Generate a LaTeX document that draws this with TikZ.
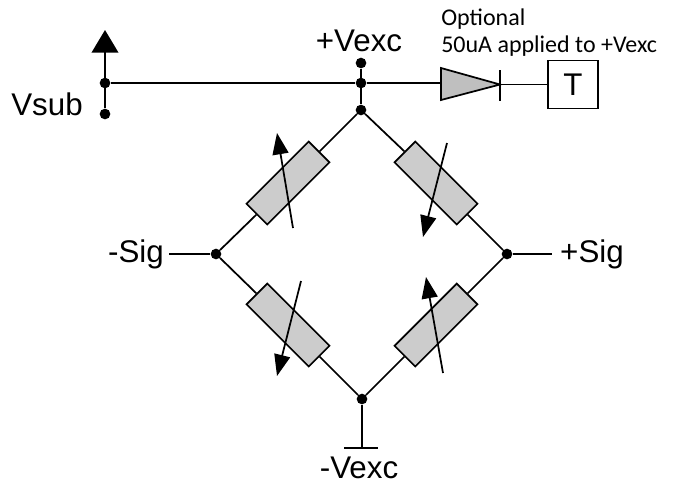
\documentclass[tikz,border=0pt]{standalone}
\usepackage{fontspec}
\setmainfont{Liberation Sans}
\newfontfamily\notefont{Carlito}
\usetikzlibrary{arrows.meta}

\tikzset{
    wire/.style={-, line width=1.3pt},
    dot/.style={circle, fill=black, inner sep=0pt, minimum size=8pt},
    res/.style={draw, fill=black!20, line width=1.3pt, minimum width=66pt, minimum height=22pt, inner sep=0pt},
    trim/.style={-{Triangle[length=16pt, width=12pt]}, line width=1.3pt},
    lbl/.style={font=\fontsize{23.5}{26}\selectfont, inner sep=4pt},
    note/.style={font=\notefont\fontsize{18}{20}\selectfont, anchor=west, inner sep=0pt}
}

\begin{document}
\begin{tikzpicture}[x=0.75pt, y=-0.75pt]
        \useasboundingbox (0,0) rectangle (678,487);

        \node[dot] (top) at (361,63) {};
        \node[dot] (rail) at (361,83) {};
        \node[dot] (apex) at (361,110) {};
        \node[dot] (left) at (216,254) {};
        \node[dot] (right) at (507,254) {};
        \node[dot] (bottom) at (362,399) {};
        \node[dot] (sub) at (105,83) {};
        \node[dot] (subend) at (105,114) {};

        \node[res, rotate=45] (rtl) at (288,183) {};
        \node[res, rotate=-45] (rtr) at (436,183) {};
        \node[res, rotate=-45] (rbl) at (288,325) {};
        \node[res, rotate=45] (rbr) at (436,325) {};

        \draw[wire](apex)--(rtl.east);
        \draw[wire](rtl.west)--(left);
        \draw[wire](apex)--(rtr.west);
        \draw[wire](rtr.east)--(right);
        \draw[wire](left)--(rbl.west);
        \draw[wire](rbl.east)--(bottom);
        \draw[wire](right)--(rbr.east);
        \draw[wire](rbr.west)--(bottom);

        \coordinate (atl) at (293,228);
        \coordinate (btl) at (277,133);
        \coordinate (atr) at (447,143);
        \coordinate (btr) at (423,237);
        \coordinate (abl) at (301,281);
        \coordinate (bbl) at (277,376);
        \coordinate (abr) at (443,373);
        \coordinate (bbr) at (426,277);
        \draw[trim](atl)--(btl);
        \draw[trim](atr)--(btr);
        \draw[trim](abl)--(bbl);
        \draw[trim](abr)--(bbr);

        \draw[wire](top)--(apex);
        \coordinate (subtip) at (105,30);
        \draw[-{Triangle[length=17pt, width=20pt]}, line width=1.3pt](subend)--(subtip);

        % diode and temperature block
        \coordinate (da) at (441,83);
        \coordinate (db) at (500,84.5);
        \coordinate (bara) at (500,70);
        \coordinate (barb) at (500,101);
        \node[draw, line width=1.3pt, minimum width=37.5pt, minimum height=36pt, inner sep=0pt, font=\fontsize{23.5}{26}\selectfont] (tblock) at (573,84.5) {T};
        \draw[wire](sub)--(rail)--(da);
        \draw[wire, fill=black!25](441,68)--(db)--(441,100)--cycle;
        \draw[wire](bara)--(barb);
        \draw[wire](db)--(tblock);

        \coordinate (gnd) at (362,448);
        \coordinate (gnda) at (344,448);
        \coordinate (gndb) at (378,448);
        \draw[wire](bottom)--(gnd);
        \draw[wire](gnda)--(gndb);

        \node[lbl] (vplus) at (359,41) {+Vexc};
        \node[lbl] (vminus) at (359,468) {-Vexc};
        \node[lbl] (vsub) at (47,104) {Vsub};
        \node[lbl] (sigm) at (136,254) {-Sig};
        \node[lbl, inner sep=6pt] (sigp) at (592,254) {+Sig};
        \draw[wire](sigm)--(left);
        \draw[wire](right)--(sigp);

        \node[note] (opt) at (441,19) {Optional};
        \node[note] (optb) at (441,46) {50uA applied to +Vexc};
    \end{tikzpicture}
\end{document}
